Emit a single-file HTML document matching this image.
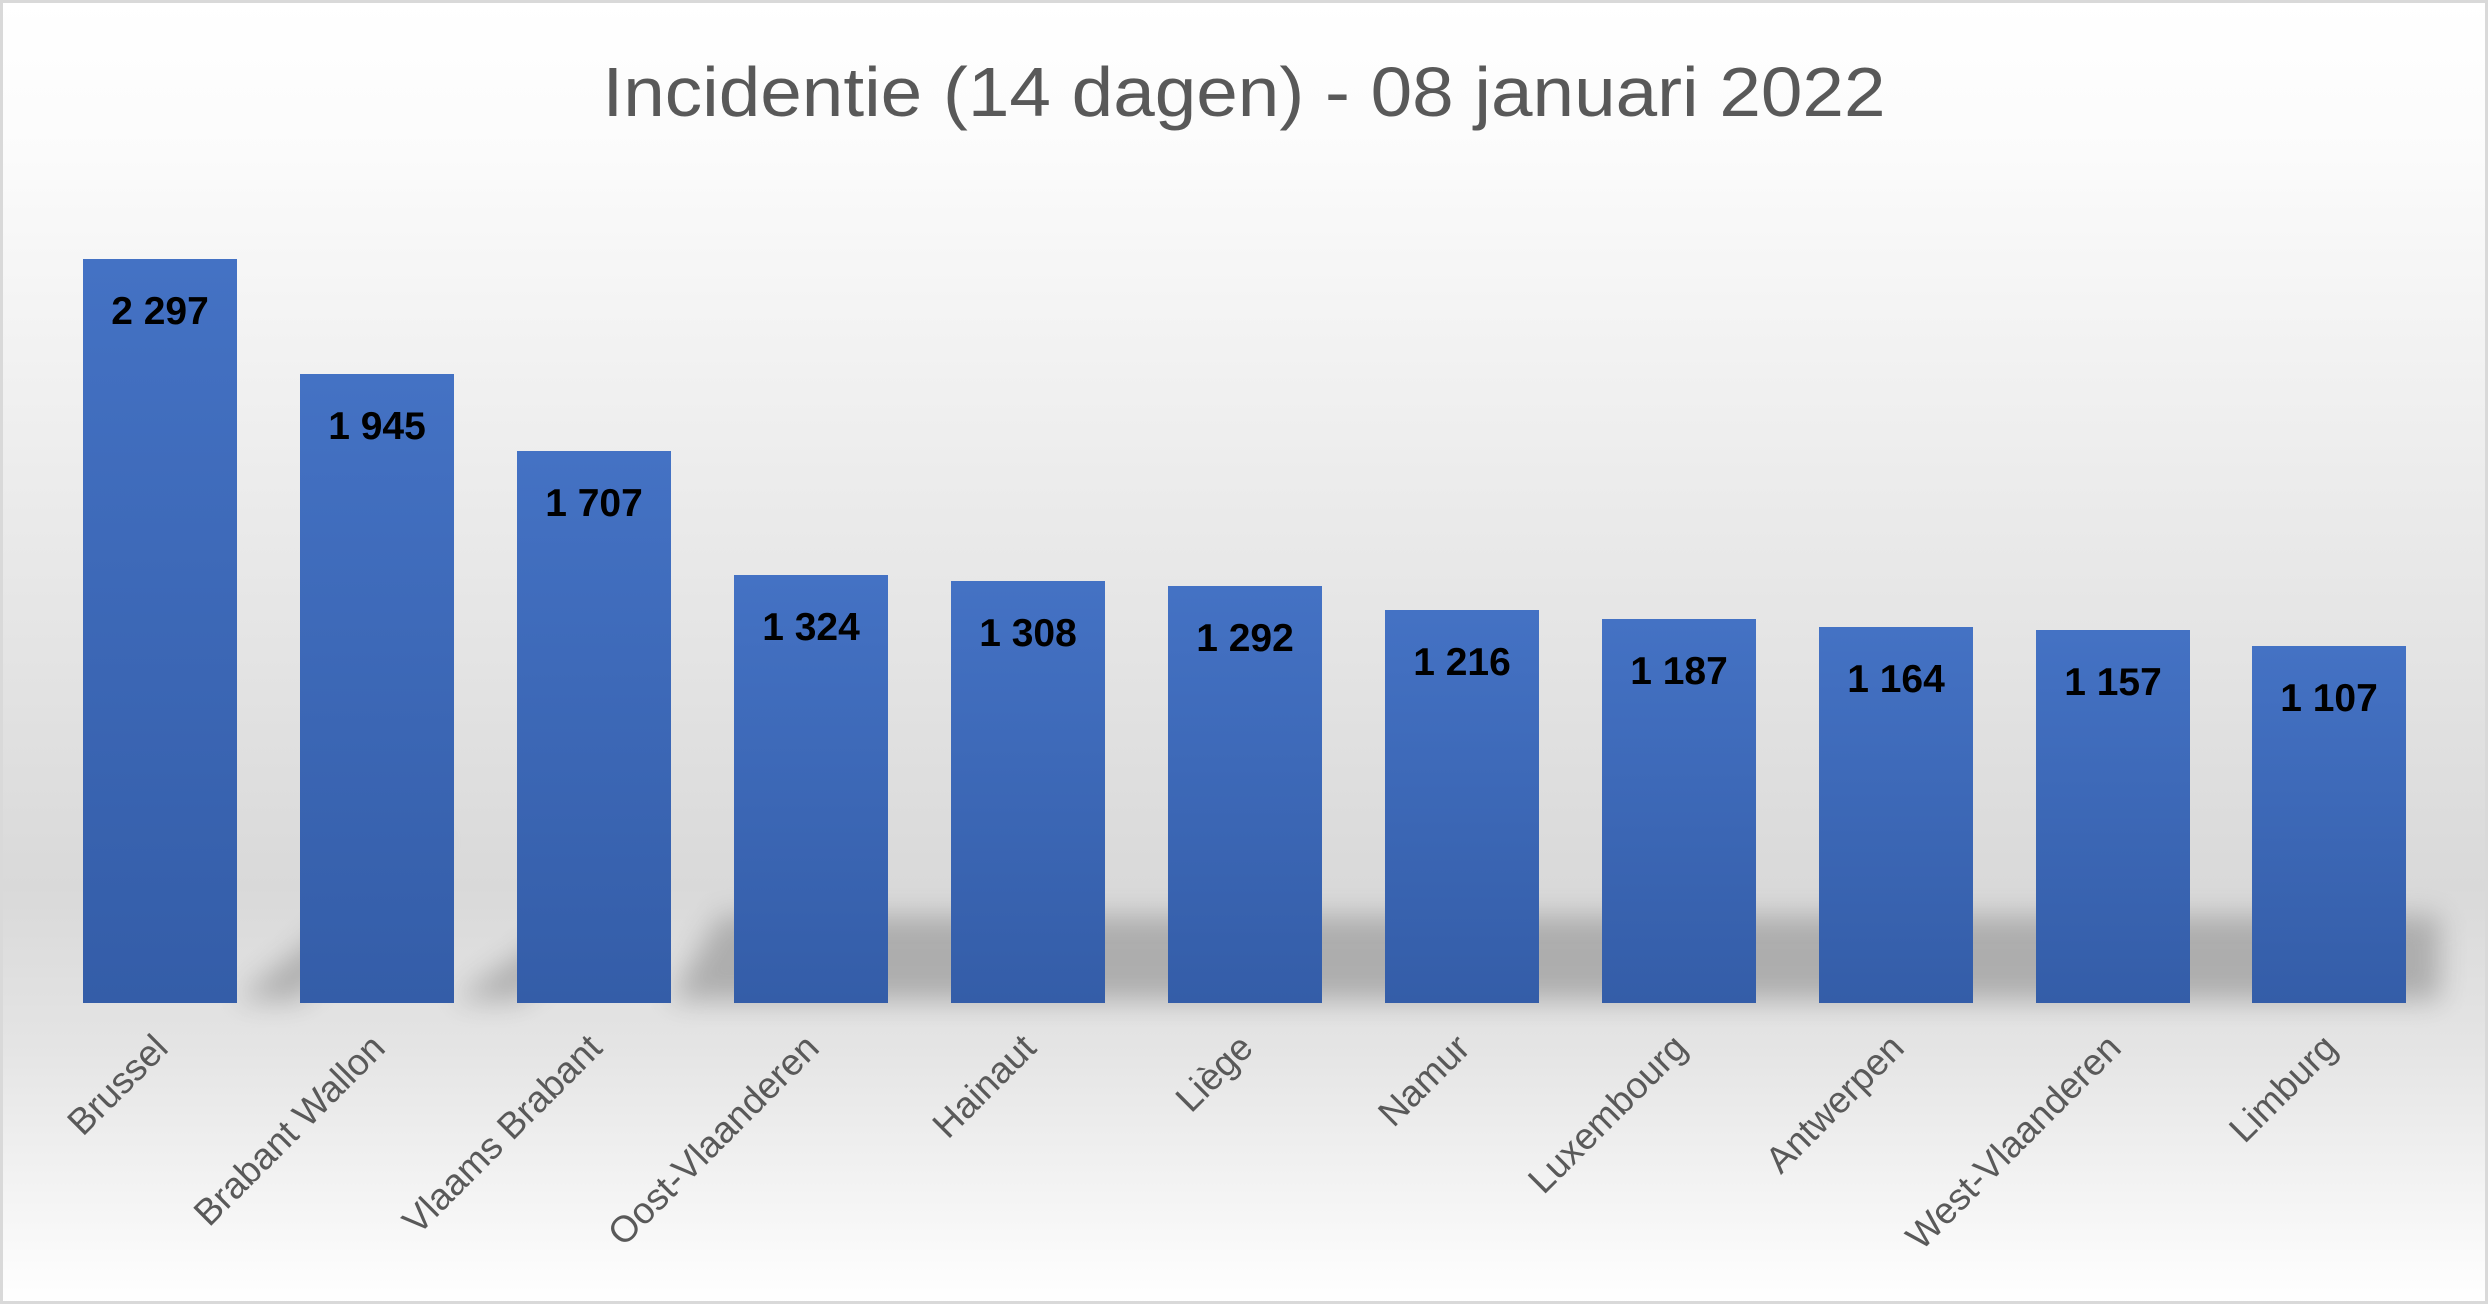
<!DOCTYPE html>
<html><head><meta charset="utf-8"><style>html,body{margin:0;padding:0;background:#fff}svg{display:block}</style></head><body>
<svg width="2488" height="1304" viewBox="0 0 2488 1304" xmlns="http://www.w3.org/2000/svg">
<defs>
<linearGradient id="bg" x1="0" y1="0" x2="0" y2="1">
<stop offset="0" stop-color="#ffffff"/>
<stop offset="0.12" stop-color="#fbfbfb"/>
<stop offset="0.68" stop-color="#d9d9d9"/>
<stop offset="0.80" stop-color="#e4e4e4"/>
<stop offset="1" stop-color="#ffffff"/>
</linearGradient>
<linearGradient id="bar" x1="0" y1="0" x2="0" y2="1">
<stop offset="0" stop-color="#4472c4"/>
<stop offset="1" stop-color="#345da8"/>
</linearGradient>
<filter id="blur" x="-20%" y="-50%" width="140%" height="200%"><feGaussianBlur stdDeviation="14"/></filter>
</defs>
<rect x="0" y="0" width="2488" height="1304" fill="url(#bg)"/>
<rect x="1.5" y="1.5" width="2485" height="1301" fill="none" stroke="#d9d9d9" stroke-width="3"/>
<g filter="url(#blur)" fill="#a8a8a8" opacity="0.9">
<polygon points="236,1000 450,830 300,1000"/>
<polygon points="453,1000 660,860 520,1000"/>
<polygon points="670,1000 720,915 2440,915 2440,1000"/>
</g>
<text x="1244" y="116" text-anchor="middle" font-family="Liberation Sans, sans-serif" font-size="70" fill="#595959" textLength="1283" lengthAdjust="spacingAndGlyphs">Incidentie (14 dagen) - 08 januari 2022</text>
<g font-family="Liberation Sans, sans-serif">
<rect x="83" y="259" width="154" height="744" fill="url(#bar)"/>
<rect x="300" y="374" width="154" height="629" fill="url(#bar)"/>
<rect x="517" y="451" width="154" height="552" fill="url(#bar)"/>
<rect x="734" y="575" width="154" height="428" fill="url(#bar)"/>
<rect x="951" y="581" width="154" height="422" fill="url(#bar)"/>
<rect x="1168" y="586" width="154" height="417" fill="url(#bar)"/>
<rect x="1385" y="610" width="154" height="393" fill="url(#bar)"/>
<rect x="1602" y="619" width="154" height="384" fill="url(#bar)"/>
<rect x="1819" y="627" width="154" height="376" fill="url(#bar)"/>
<rect x="2036" y="630" width="154" height="373" fill="url(#bar)"/>
<rect x="2252" y="646" width="154" height="357" fill="url(#bar)"/>
<g font-size="39" font-weight="bold" fill="#000" text-anchor="middle">
<text x="160" y="324">2 297</text>
<text x="377" y="439">1 945</text>
<text x="594" y="516">1 707</text>
<text x="811" y="640">1 324</text>
<text x="1028" y="646">1 308</text>
<text x="1245" y="651">1 292</text>
<text x="1462" y="675">1 216</text>
<text x="1679" y="684">1 187</text>
<text x="1896" y="692">1 164</text>
<text x="2113" y="695">1 157</text>
<text x="2329" y="711">1 107</text>
</g>
<g font-size="37" fill="#595959" text-anchor="end">
<text transform="translate(170,1050) rotate(-45)">Brussel</text>
<text transform="translate(387,1050) rotate(-45)">Brabant Wallon</text>
<text transform="translate(604,1050) rotate(-45)">Vlaams Brabant</text>
<text transform="translate(821,1050) rotate(-45)">Oost-Vlaanderen</text>
<text transform="translate(1038,1050) rotate(-45)">Hainaut</text>
<text transform="translate(1255,1050) rotate(-45)">Liège</text>
<text transform="translate(1472,1050) rotate(-45)">Namur</text>
<text transform="translate(1689,1050) rotate(-45)">Luxembourg</text>
<text transform="translate(1906,1050) rotate(-45)">Antwerpen</text>
<text transform="translate(2123,1050) rotate(-45)">West-Vlaanderen</text>
<text transform="translate(2339,1050) rotate(-45)">Limburg</text>
</g>
</g>
</svg>
</body></html>
